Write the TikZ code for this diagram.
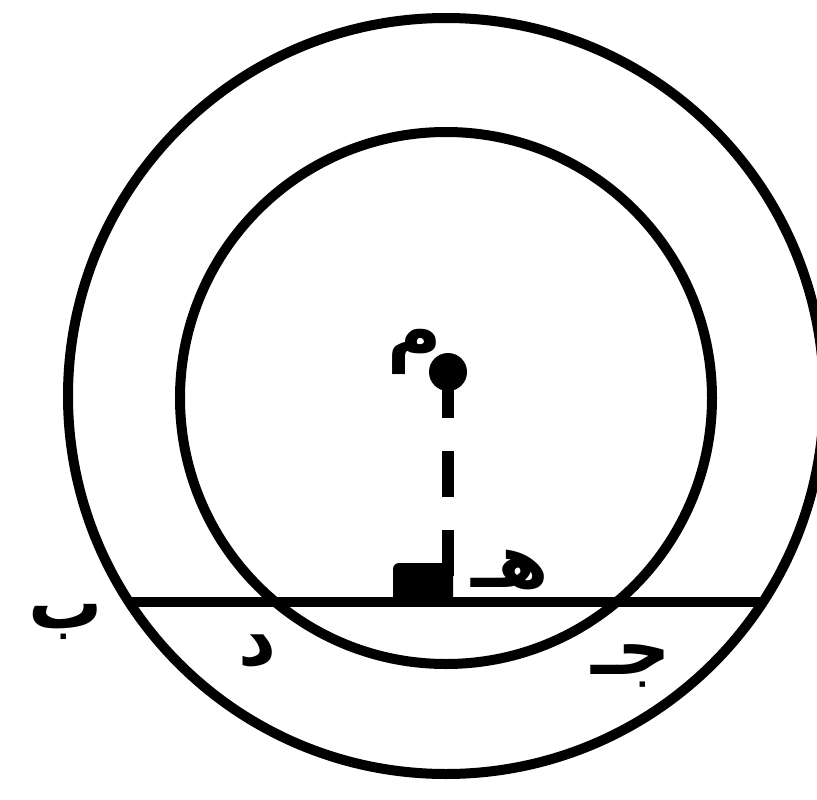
\documentclass[tikz,border=0pt]{standalone}
\usepackage{fontspec}
\newfontfamily\arabicfont[Script=Arabic]{DejaVu Sans}
\TeXXeTstate=1
\begin{document}
\begin{tikzpicture}[x=1pt,y=-1pt,line width=10pt,
  lbl/.style={font=\arabicfont\bfseries\fontsize{74}{76}\selectfont,inner sep=0pt},
  ring/.style={draw=black,line width=10pt}]
\useasboundingbox (0,0) rectangle (817,800);
\coordinate (O) at (446,396);
\coordinate (I) at (446,398);
\draw[ring] (O) circle[radius=378];
\draw[ring] (I) circle[radius=266];
\coordinate (B) at (130,602);
\coordinate (A) at (762,602);
\draw (B) -- (A);
\coordinate (M) at (448,372);
\coordinate (H) at (448,600);
\fill (393,602) -- (393,571) [rounded corners=6pt] -- (393,563) -- (453,563) [sharp corners] -- (453,602) -- cycle;
\draw[line width=12pt,dash pattern=on 46pt off 33pt] (M) -- (H);
\fill (M) circle[radius=19];
\node[lbl] (lb) at (66,622) {\beginR ب\endR};
\node[lbl] (ld) at (257,651) {\beginR د\endR};
\node[lbl] (lj) at (631,666) {\beginR جـ\endR};
\node[lbl] (lh) at (510,570) {\beginR هـ\endR};
\node[lbl] (lm) at (415,352) {\beginR م\endR};
\end{tikzpicture}
\end{document}
